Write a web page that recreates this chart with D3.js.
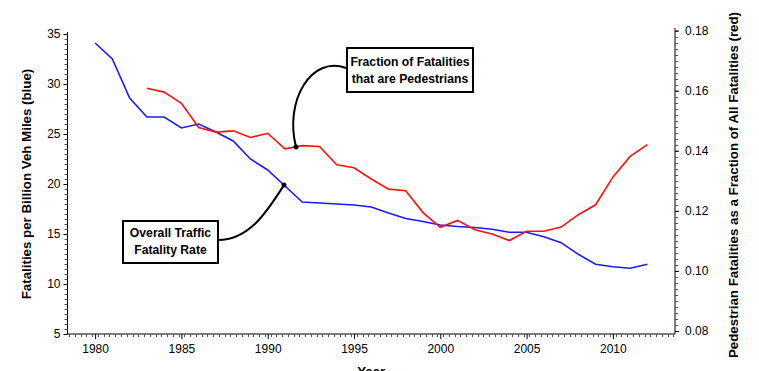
<!DOCTYPE html>
<html><head><meta charset="utf-8">
<script src="https://cdn.jsdelivr.net/npm/d3@7"></script>
<style>
body{margin:0;background:#fff;}
svg{display:block;}
.tick text{font-family:"Liberation Sans",Arial,sans-serif;font-size:12px;fill:#000;}
.ttl{font-family:"Liberation Sans Narrow","Arial Narrow","Liberation Sans",sans-serif;font-weight:bold;font-size:13.3px;fill:#000;}
.ann{font-family:"Liberation Sans Narrow","Arial Narrow","Liberation Sans",sans-serif;font-weight:bold;font-size:12.2px;fill:#000;}
</style></head>
<body>
<svg id="c" width="759" height="371"></svg>
<script>
const years = d3.range(1980, 2013);
const rateYears = years;
const rateValues = [34.1,32.5,28.6,26.7,26.7,25.6,26.0,25.2,24.3,22.5,21.4,19.8,18.2,18.1,18.0,17.9,17.7,17.1,16.55,16.25,15.9,15.75,15.65,15.47,15.17,15.17,14.73,14.13,12.97,11.97,11.73,11.57,11.97];
const fracYears = d3.range(1983, 2013);
const fracValues = [0.1608,0.1595,0.1558,0.1477,0.1462,0.1466,0.1444,0.1458,0.1406,0.1417,0.1414,0.1353,0.1343,0.1306,0.1272,0.1267,0.1194,0.1145,0.1168,0.1137,0.1123,0.1101,0.1132,0.1132,0.1146,0.1187,0.1220,0.1312,0.1381,0.1420];
const xTicks = [1980,1985,1990,1995,2000,2005,2010];
const leftTicks = [5,10,15,20,25,30,35];
const rightTicks = [0.08,0.10,0.12,0.14,0.16,0.18];
const xTitle = "Year";
const leftTitle = "Fatalities per Billion Veh Miles (blue)";
const rightTitle = "Pedestrian Fatalities as a Fraction of All Fatalities (red)";
const note1 = ["Fraction of Fatalities","that are Pedestrians"];
const note2 = ["Overall Traffic","Fatality Rate"];

const svg = d3.select("#c");
const L = 67.5, R = 675, T = 32, B = 334;
const x = d3.scaleLinear().domain([1978.4, 2013.6]).range([L, R]);
const yL = d3.scaleLinear().domain([5, 35]).range([B, 34]);
const yR = d3.scaleLinear().domain([0.08, 0.18]).range([331, 30.5]);

// axes lines
svg.append("line").attr("x1",L).attr("x2",L).attr("y1",T).attr("y2",B).attr("stroke","#000");
svg.append("line").attr("x1",R).attr("x2",R).attr("y1",28).attr("y2",B).attr("stroke","#000");
svg.append("line").attr("x1",L).attr("x2",R).attr("y1",B).attr("y2",B).attr("stroke","#000");

// minor ticks
const gMin = svg.append("g").attr("stroke","#555").attr("stroke-width",1);
d3.range(1978.5, 2013.6, 1/3).forEach(v=>{const px=Math.round(x(v))+0.5; gMin.append("line").attr("x1",px).attr("x2",px).attr("y1",B).attr("y2",B+3);});
d3.range(5, 35.01, 0.5).forEach(v=>{const py=Math.round(yL(v))+0.5; gMin.append("line").attr("x1",L-3).attr("x2",L).attr("y1",py).attr("y2",py);});
d3.range(0.08, 0.1801, 0.002).forEach(v=>{const py=Math.round(yR(v))+0.5; gMin.append("line").attr("x1",R).attr("x2",R+3).attr("y1",py).attr("y2",py);});

// major axes
const gx = svg.append("g").attr("transform",`translate(0,${B})`)
  .call(d3.axisBottom(x).tickValues(xTicks).tickFormat(d3.format("d")).tickSize(5).tickPadding(5));
const gl = svg.append("g").attr("transform",`translate(${L},0)`)
  .call(d3.axisLeft(yL).tickValues(leftTicks).tickSize(4).tickPadding(3));
const gr = svg.append("g").attr("transform",`translate(${R},0)`)
  .call(d3.axisRight(yR).tickValues(rightTicks).tickFormat(d3.format(".2f")).tickSize(4).tickPadding(6));
[gx,gl,gr].forEach(g=>{g.select(".domain").remove(); g.selectAll("line").attr("stroke","#000");});

// lines
svg.append("path").datum(rateYears.map((yr,i)=>[yr,rateValues[i]]))
  .attr("fill","none").attr("stroke","#1a1aff").attr("stroke-width",1.6)
  .attr("d", d3.line().x(d=>x(d[0])).y(d=>yL(d[1])));
svg.append("path").datum(fracYears.map((yr,i)=>[yr,fracValues[i]]))
  .attr("fill","none").attr("stroke","#ff1010").attr("stroke-width",1.6)
  .attr("d", d3.line().x(d=>x(d[0])).y(d=>yR(d[1])));

// titles
svg.append("text").attr("class","ttl").attr("text-anchor","middle")
  .attr("transform","translate(31,184) rotate(-90)").text(leftTitle);
svg.append("text").attr("class","ttl").attr("text-anchor","middle")
  .attr("transform","translate(738,185) rotate(-90)").text(rightTitle);
svg.append("text").attr("class","ttl").attr("text-anchor","middle")
  .attr("x",(L+R)/2).attr("y",376).text(xTitle);

// annotations
function note(lines, bx, by, bw, bh, ly){
  svg.append("rect").attr("x",bx).attr("y",by).attr("width",bw).attr("height",bh)
    .attr("fill","#fff").attr("stroke","#000").attr("stroke-width",2);
  lines.forEach((t,i)=>svg.append("text").attr("class","ann").attr("text-anchor","middle")
    .attr("x",bx+bw/2).attr("y",ly+i*17).text(t));
}
svg.append("path").attr("d","M346,68 C312,55 284,100 296,147").attr("fill","none").attr("stroke","#000").attr("stroke-width",2);
svg.append("circle").attr("cx",296).attr("cy",147).attr("r",2.5).attr("fill","#000");
svg.append("path").attr("d","M218,240 C250,240 268,210 284,185").attr("fill","none").attr("stroke","#000").attr("stroke-width",2);
svg.append("circle").attr("cx",284).attr("cy",185).attr("r",2.5).attr("fill","#000");
note(note1, 347, 48, 126, 44, 66);
note(note2, 123, 221, 95, 42, 237);
</script>
</body></html>
